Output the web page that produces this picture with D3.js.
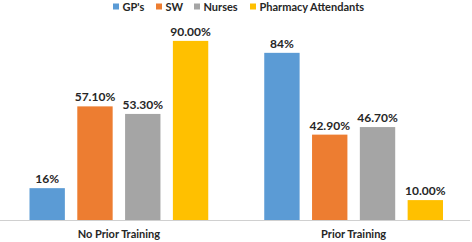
<!DOCTYPE html>
<html>
<head>
<meta charset="utf-8">
<script src="https://cdn.jsdelivr.net/npm/d3@7"></script>
<style>
  body { margin: 0; background: #fff; }
  svg { display: block; font-family: Lato, "Open Sans", sans-serif; }
</style>
</head>
<body>
<svg id="chart" width="472" height="242"></svg>
<script>
// chart data
const categories = ["No Prior Training", "Prior Training"];
const seriesNames = ["GP's", "SW", "Nurses", "Pharmacy Attendants"];
const seriesColors = ["#5B9BD5", "#ED7D31", "#A5A5A5", "#FFC000"];
const gpValues = [16, 84];
const swValues = [57.1, 42.9];
const nurseValues = [53.3, 46.7];
const pharmacyValues = [90, 10];
const valueLabels = [
	["16%", "57.10%", "53.30%", "90.00%"],
	["84%", "42.90%", "46.70%", "10.00%"]
];

const allSeries = [gpValues, swValues, nurseValues, pharmacyValues];

const width = 472, height = 242;
const margin = { top: 21, right: 1, bottom: 22, left: 1.5 };

const svg = d3.select("#chart");

const x0 = d3.scaleBand()
	.domain(categories)
	.range([margin.left, width - margin.right])
	.paddingInner(0)
	.paddingOuter(0);

// 4 bars + 3 small gaps + group gap (150% of bar width)
const x1 = d3.scaleBand()
	.domain(seriesNames)
	.range([28, x0.bandwidth() - 28])
	.paddingInner(0.26)
	.paddingOuter(0);

const y = d3.scaleLinear()
	.domain([0, 100])
	.range([height - margin.bottom, margin.top]);

// baseline
svg.append("line")
	.attr("x1", 0)
	.attr("x2", width - 2)
	.attr("y1", y(0) + 0.5)
	.attr("y2", y(0) + 0.5)
	.attr("stroke", "#d0d0d0")
	.attr("stroke-width", 1);

const groups = svg.selectAll("g.cat")
	.data(categories)
	.join("g")
	.attr("class", "cat")
	.attr("transform", d => `translate(${x0(d)},0)`);

groups.each(function (cat, ci) {
	const g = d3.select(this);
	const rows = seriesNames.map((s, si) => ({ s, si, v: allSeries[si][ci], label: valueLabels[ci][si] }));

	g.selectAll("rect")
		.data(rows)
		.join("rect")
		.attr("x", d => x1(d.s))
		.attr("width", x1.bandwidth())
		.attr("y", d => y(d.v))
		.attr("height", d => y(0) - y(d.v))
		.attr("fill", d => seriesColors[d.si]);

	g.selectAll("text.val")
		.data(rows)
		.join("text")
		.attr("class", "val")
		.attr("x", d => x1(d.s) + x1.bandwidth() / 2)
		.attr("y", d => y(d.v) - 5)
		.attr("text-anchor", "middle")
		.attr("font-size", 12)
		.attr("font-weight", "bold")
		.attr("fill", "#262626")
		.text(d => d.label);
});

// category axis labels
svg.selectAll("text.cat-label")
	.data(categories)
	.join("text")
	.attr("class", "cat-label")
	.attr("x", d => x0(d) + x0.bandwidth() / 2)
	.attr("y", 238)
	.attr("text-anchor", "middle")
	.attr("font-size", 11)
	.attr("font-weight", "bold")
	.attr("fill", "#262626")
	.text(d => d);

// legend
const legendX = [113, 156, 194, 250];
const legend = svg.selectAll("g.legend")
	.data(seriesNames)
	.join("g")
	.attr("class", "legend")
	.attr("transform", (d, i) => `translate(${legendX[i]},2)`);

legend.append("rect")
	.attr("width", 6)
	.attr("height", 6)
	.attr("y", 1.5)
	.attr("fill", (d, i) => seriesColors[i]);

legend.append("text")
	.attr("x", 9.5)
	.attr("y", 8.5)
	.attr("font-size", 11)
	.attr("font-weight", "bold")
	.attr("fill", "#262626")
	.text(d => d);
</script>
</body>
</html>
